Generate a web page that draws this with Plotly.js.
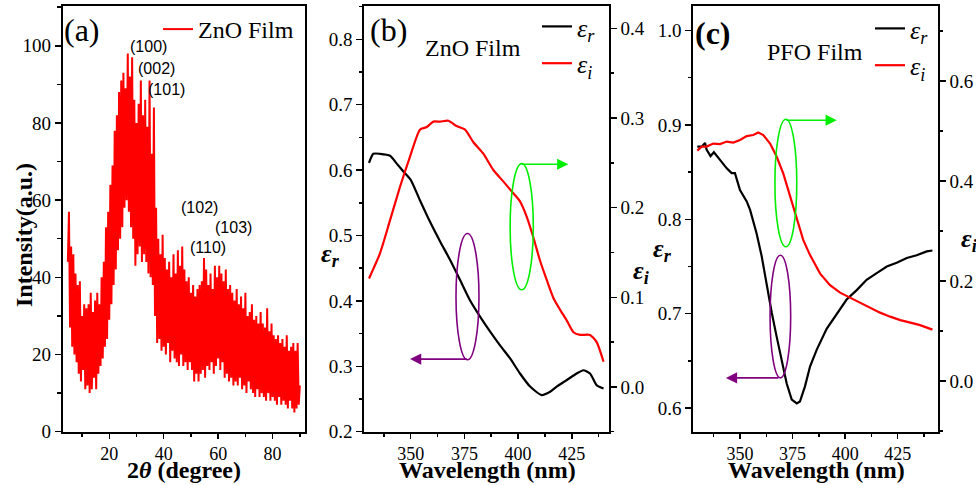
<!DOCTYPE html>
<html>
<head>
<meta charset="utf-8">
<script src="https://cdn.plot.ly/plotly-3.0.1.min.js"></script>
<style>html,body{margin:0;padding:0;background:#fff;}#chart{width:976px;height:485px;}</style>
</head>
<body>
<div id="chart"></div>
<script>
// ---------- Panel (a): XRD of ZnO film ----------
const twoThetaStart = 4.8;   // degrees
const twoThetaStep = 0.4;    // scan step, degrees
const xrdIntensity = [
  44, 57, 27, 48, 22, 46, 20, 41, 18, 38,
  15, 39, 13, 30, 16, 33, 11, 32, 12, 33,
  10, 36, 11, 31, 14, 34, 11, 36, 15, 33,
  17, 40, 19, 44, 22, 53, 24, 57, 29, 64,
  33, 69, 38, 78, 42, 82, 47, 88, 50, 91,
  53, 93, 58, 89, 60, 98, 57, 92, 53, 97,
  50, 86, 43, 80, 46, 85, 48, 91, 44, 82,
  46, 86, 44, 79, 41, 91, 40, 72, 38, 84,
  30, 58, 23, 50, 24, 46, 21, 51, 22, 45,
  20, 42, 23, 44, 18, 40, 21, 46, 19, 41,
  18, 47, 17, 43, 20, 48, 17, 42, 18, 39,
  16, 40, 18, 36, 16, 38, 13, 35, 15, 37,
  13, 38, 15, 39, 16, 45, 14, 42, 17, 38,
  16, 41, 18, 37, 15, 43, 17, 40, 19, 43,
  16, 41, 18, 39, 14, 42, 15, 37, 13, 38,
  14, 36, 12, 34, 13, 37, 12, 33, 14, 35,
  11, 32, 12, 36, 10, 30, 13, 31, 11, 33,
  10, 29, 9, 30, 11, 28, 9, 31, 10, 28,
  9, 27, 8, 32, 10, 26, 8, 28, 9, 25,
  8, 24, 7, 25, 9, 23, 7, 24, 8, 22,
  7, 25, 6, 21, 8, 22, 6, 23, 5, 21,
  6, 23, 7, 12
];
const xrdTwoTheta = xrdIntensity.map((_, i) => +(twoThetaStart + i * twoThetaStep).toFixed(1));
const peakLabels = ['(100)', '(002)', '(101)', '(102)', '(103)', '(110)'];

// ---------- Panel (b): ZnO film dielectric function ----------
const wlB_r = [330.6,332.6,335.7,340.4,343.5,346.6,350,354.3,359,363.7,368.3,373,377.6,382.3,387,391.6,396.3,400.9,405.6,411,414.9,418,422.7,427.3,430.4,433.5,436.6,439.8];
const epsR_B = [0.611,0.625,0.625,0.622,0.610,0.598,0.585,0.554,0.521,0.491,0.463,0.432,0.401,0.376,0.353,0.332,0.312,0.289,0.269,0.256,0.261,0.269,0.279,0.289,0.294,0.289,0.271,0.266];
const wlB_i = [330.6,335.7,340.4,345,349.7,354.3,357.5,360.6,363.7,367.5,371.4,375.3,379.2,383.9,388.5,393.2,397.8,400.9,404,407.1,410.2,413.4,416.5,419.6,422.7,425.8,428.9,433.5,436.6,439.8];
const epsI_B = [0.121,0.149,0.186,0.223,0.257,0.287,0.290,0.296,0.296,0.297,0.291,0.287,0.273,0.260,0.242,0.229,0.216,0.207,0.190,0.167,0.141,0.119,0.099,0.086,0.074,0.061,0.058,0.058,0.050,0.028];

// ---------- Panel (c): PFO film dielectric function ----------
const wlC_r = [329.7,331.8,333.4,334.1,336,337.6,340.5,343.7,346,347.6,350,353.2,354.8,357.9,360.3,362.7,365.1,367.4,369.8,372.2,374.6,377,378.5,380.9,383.3,386.5,391.2,396,400.7,405.5,410.2,415,419.8,424.5,429.3,434,438.8,441.5];
const epsR_C = [0.877,0.877,0.881,0.874,0.867,0.871,0.863,0.854,0.849,0.849,0.831,0.819,0.810,0.785,0.761,0.729,0.701,0.676,0.651,0.626,0.609,0.605,0.607,0.623,0.644,0.662,0.684,0.700,0.715,0.725,0.736,0.743,0.750,0.754,0.759,0.762,0.766,0.767];
const wlC_i = [329.7,331.8,334.1,337.3,340.5,343.7,346.8,350,353.2,356.3,358.7,361.1,364.3,367.4,370.6,373.8,377,380.1,383.3,388.1,392.8,397.6,402.3,407.1,411.9,416.6,421.4,426.2,431,435.6,441.5];
const epsI_C = [0.461,0.469,0.469,0.475,0.474,0.479,0.477,0.482,0.490,0.492,0.497,0.492,0.475,0.449,0.415,0.369,0.322,0.282,0.252,0.215,0.192,0.177,0.167,0.157,0.147,0.137,0.129,0.122,0.117,0.112,0.103];

const serif = '"Liberation Serif", "Times New Roman", serif';
const tickFont = {family: serif, size: 19, color: '#000'};
const xTickFont = {family: serif, size: 18, color: '#000'};
const W = 976, H = 485;
const px = v => v / W;
const py = v => 1 - v / H;

function axisBase(extra) {
  return Object.assign({
    showgrid: false, zeroline: false, showline: true, linecolor: '#000', linewidth: 2,
    ticks: 'outside', ticklen: 6, tickwidth: 1.5, tickcolor: '#000',
    tickfont: tickFont, mirror: true
  }, extra);
}

const traces = [
  {x: xrdTwoTheta, y: xrdIntensity, type: 'scatter', mode: 'lines', name: 'ZnO Film',
   line: {color: '#ff0000', width: 2}, xaxis: 'x', yaxis: 'y', legend: 'legend'},
  {x: wlB_r, y: epsR_B, type: 'scatter', mode: 'lines', name: '<i>ε<sub>r</sub></i>',
   line: {color: '#000', width: 2.2, shape: 'spline', smoothing: 0.6}, xaxis: 'x2', yaxis: 'y2', legend: 'legend2'},
  {x: wlB_i, y: epsI_B, type: 'scatter', mode: 'lines', name: '<i>ε<sub>i</sub></i>',
   line: {color: '#ff0000', width: 2.2, shape: 'spline', smoothing: 0.6}, xaxis: 'x2', yaxis: 'y3', legend: 'legend2'},
  {x: wlC_r, y: epsR_C, type: 'scatter', mode: 'lines', name: '<i>ε<sub>r</sub></i>',
   line: {color: '#000', width: 2.2}, xaxis: 'x3', yaxis: 'y4', legend: 'legend3'},
  {x: wlC_i, y: epsI_C, type: 'scatter', mode: 'lines', name: '<i>ε<sub>i</sub></i>',
   line: {color: '#ff0000', width: 2.2}, xaxis: 'x3', yaxis: 'y5', legend: 'legend3'}
];

const peakPos = [[34.3, 99.9], [37.2, 94.2], [41.2, 88.7], [53.1, 58.2], [65.5, 53.0], [56.3, 47.8]];

const annotations = [];
peakLabels.forEach((t, i) => annotations.push({
  text: t, x: peakPos[i][0], y: peakPos[i][1], xref: 'x', yref: 'y', showarrow: false,
  xanchor: 'center', yanchor: 'middle',
  font: {family: '"Liberation Sans", Arial, sans-serif', size: 16, color: '#000'}
}));
function txt(text, x, y, size, extra) {
  annotations.push(Object.assign({text: text, x: px(x), y: py(y), xref: 'paper', yref: 'paper',
    xanchor: 'center', yanchor: 'middle',
    showarrow: false, font: {family: serif, size: size, color: '#000'}}, extra || {}));
}
txt('(a)', 82, 30, 32);
txt('(b)', 388, 30, 32);
txt('<b>(c)</b>', 713, 33, 32);
txt('ZnO Film', 473, 48, 24);
txt('PFO Film', 815, 52, 24);
txt('<b>Intensity(a.u.)</b>', 24, 235, 24, {textangle: -90});
txt('<b>2<i>θ</i> (degree)</b>', 184, 470, 24);
txt('<b>Wavelength (nm)</b>', 487, 470, 24);
txt('<b>Wavelength (nm)</b>', 816, 470, 24);
txt('<b><i>ε<sub>r</sub></i></b>', 330, 255, 26);
txt('<b><i>ε<sub>i</sub></i></b>', 641, 272, 26);
txt('<b><i>ε<sub>r</sub></i></b>', 662, 250, 26);
txt('<b><i>ε<sub>i</sub></i></b>', 969, 240, 26);

function arrow(color, xr, yr, tailX, tailY, headX, headY) {
  annotations.push({text: '', x: headX, y: headY, ax: tailX, ay: tailY, xref: xr, yref: yr,
    axref: xr, ayref: yr, showarrow: true, arrowhead: 2, arrowsize: 1.4, arrowwidth: 1.6,
    arrowcolor: color, standoff: 0, startstandoff: 0});
}
const green = '#00ee00', purple = '#800080';
arrow(green, 'x2', 'y2', 400.9, 0.609, 423.4, 0.609);
arrow(purple, 'x2', 'y2', 376.9, 0.311, 349.7, 0.311);
arrow(green, 'x3', 'y4', 371.4, 0.905, 396, 0.905);
arrow(purple, 'x3', 'y4', 369.0, 0.632, 343.3, 0.632);

const shapes = [
  {type: 'circle', xref: 'x2', yref: 'y2', x0: 396.3, x1: 407.1, y0: 0.417, y1: 0.610, line: {color: green, width: 1.6}},
  {type: 'circle', xref: 'x2', yref: 'y2', x0: 371.1, x1: 381.8, y0: 0.310, y1: 0.503, line: {color: purple, width: 1.6}},
  {type: 'circle', xref: 'x3', yref: 'y4', x0: 366.6, x1: 377.0, y0: 0.771, y1: 0.906, line: {color: green, width: 1.6}},
  {type: 'circle', xref: 'x3', yref: 'y4', x0: 364.3, x1: 374.1, y0: 0.632, y1: 0.762, line: {color: purple, width: 1.6}}
];

const yDom = [py(431.7), py(6)];
const legendBase = {bgcolor: 'rgba(0,0,0,0)', borderwidth: 0, xanchor: 'left', yanchor: 'top',
  font: {family: serif, size: 24, color: '#000'}, itemwidth: 30, tracegroupgap: 0};
const minorT = (d) => ({dtick: d, tick0: 0, ticklen: 3.5, tickwidth: 1.5, tickcolor: '#000', ticks: 'outside'});

const layout = {
  width: W, height: H, margin: {l: 0, r: 0, t: 0, b: 0},
  paper_bgcolor: '#fff', plot_bgcolor: 'rgba(0,0,0,0)',
  showlegend: true,
  font: {family: serif, color: '#000'},
  xaxis: axisBase({domain: [px(62.7), px(305)], range: [2.9, 91.9], tick0: 0, dtick: 20, anchor: 'y',
    ticklen: 5, tickfont: xTickFont, minor: minorT(10)}),
  yaxis: axisBase({domain: yDom, range: [0, 110.3], tick0: 0, dtick: 20, anchor: 'x', minor: minorT(10)}),
  xaxis2: axisBase({domain: [px(364.3), px(608.7)], range: [328.4, 442.2], tick0: 0, dtick: 25, anchor: 'y2',
    ticklen: 5, tickfont: xTickFont, minor: minorT(12.5)}),
  yaxis2: axisBase({domain: yDom, range: [0.2, 0.851], tick0: 0, dtick: 0.1, tickformat: '.1f', anchor: 'x2',
    minor: minorT(0.05)}),
  yaxis3: axisBase({domain: yDom, range: [-0.05, 0.425], tick0: 0, dtick: 0.1, tickformat: '.1f', anchor: 'x2',
    overlaying: 'y2', side: 'right', mirror: false, minor: minorT(0.05)}),
  xaxis3: axisBase({domain: [px(693.3), px(937.7)], range: [327.8, 444], tick0: 0, dtick: 25, anchor: 'y4',
    ticklen: 5, tickfont: xTickFont, minor: minorT(12.5)}),
  yaxis4: axisBase({domain: yDom, range: [0.575, 1.026], tick0: 0, dtick: 0.1, tickformat: '.1f', anchor: 'x3',
    minor: minorT(0.05)}),
  yaxis5: axisBase({domain: yDom, range: [-0.101, 0.75], tick0: 0, dtick: 0.2, tickformat: '.1f', anchor: 'x3',
    overlaying: 'y4', side: 'right', mirror: false, minor: minorT(0.1)}),
  legend: Object.assign({}, legendBase, {x: px(158), y: py(7)}),
  legend2: Object.assign({}, legendBase, {x: px(537), y: py(3), font: {family: serif, size: 26, color: '#000'}}),
  legend3: Object.assign({}, legendBase, {x: px(870), y: py(5), font: {family: serif, size: 26, color: '#000'}}),
  annotations: annotations,
  shapes: shapes
};

Plotly.newPlot('chart', traces, layout, {staticPlot: true, displayModeBar: false});
</script>
</body>
</html>
